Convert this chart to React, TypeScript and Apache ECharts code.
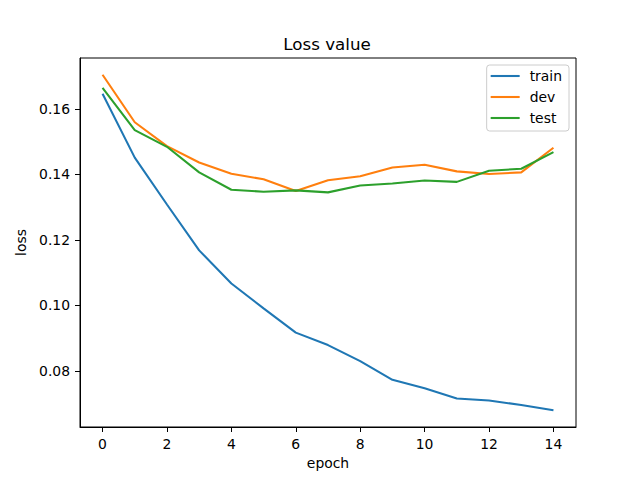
import React, { useEffect, useRef } from "react";
import * as echarts from "echarts";

const epochs = [0, 1, 2, 3, 4, 5, 6, 7, 8, 9, 10, 11, 12, 13, 14];
const trainLoss = [0.1646, 0.1451, 0.1308, 0.1168, 0.1067, 0.0991, 0.0917, 0.0879, 0.083, 0.0773, 0.0747, 0.0716, 0.071, 0.0696, 0.068];
const devLoss = [0.1704, 0.1559, 0.1486, 0.1436, 0.1402, 0.1385, 0.1349, 0.1382, 0.1394, 0.1421, 0.1429, 0.1409, 0.1401, 0.1406, 0.1481];
const testLoss = [0.1664, 0.1535, 0.1484, 0.1406, 0.1353, 0.1347, 0.1351, 0.1345, 0.1366, 0.1372, 0.1381, 0.1377, 0.1411, 0.1417, 0.1468];
const xTicks = [0, 2, 4, 6, 8, 10, 12, 14];
const yTicks = [0.08, 0.1, 0.12, 0.14, 0.16];

const FONT = "DejaVu Sans";

export default function App() {
  const ref = useRef<HTMLDivElement>(null);
  useEffect(() => {
    if (!ref.current) return;
    const chart = echarts.init(ref.current, undefined, { renderer: "svg" });
    const mk = (name: string, vals: number[], color: string) => ({
      name,
      type: "line",
      data: epochs.map((e, i) => [e, vals[i]]),
      symbol: "none",
      lineStyle: { color, width: 2.08 },
      itemStyle: { color },
    });
    chart.setOption({
      animation: false,
      backgroundColor: "#fff",
      textStyle: { fontFamily: FONT },
      grid: { left: 80, right: 64, top: 58, bottom: 53, show: true, borderColor: "#000", borderWidth: 1, backgroundColor: "transparent" },
      graphic: [
        {
          type: "text",
          x: 327,
          y: 43.5,
          style: { text: "Loss value", font: `16.7px "${FONT}"`, fill: "#000", textAlign: "center", textVerticalAlign: "middle" },
        },
      ],
      legend: {
        orient: "vertical",
        right: 71,
        top: 65,
        icon: "rect",
        itemWidth: 29,
        itemHeight: 2.08,
        itemGap: 7,
        padding: [4, 7, 6, 4],
        borderColor: "#cccccc",
        borderWidth: 1,
        borderRadius: 3,
        backgroundColor: "rgba(255,255,255,0.8)",
        textStyle: { fontFamily: FONT, fontSize: 13.9, color: "#000", padding: [0, 0, 0, 5], lineHeight: 14 },
        data: ["train", "dev", "test"],
      },
      xAxis: {
        type: "value",
        min: -0.7,
        max: 14.7,
        name: "epoch",
        nameLocation: "middle",
        nameGap: 27,
        nameTextStyle: { fontFamily: FONT, fontSize: 13.9, color: "#000" },
        axisLine: { show: true, onZero: false, lineStyle: { color: "#000", width: 1 } },
        axisTick: { show: true, inside: false, length: 5, lineStyle: { color: "#000", width: 1 }, customValues: xTicks },
        axisLabel: { show: true, margin: 10, fontFamily: FONT, fontSize: 13.9, color: "#000", customValues: xTicks },
        splitLine: { show: false },
      },
      yAxis: {
        type: "value",
        min: 0.0629,
        max: 0.1755,
        name: "loss",
        nameLocation: "middle",
        nameRotate: 90,
        nameGap: 47,
        nameTextStyle: { fontFamily: FONT, fontSize: 13.9, color: "#000" },
        axisLine: { show: true, onZero: false, lineStyle: { color: "#000", width: 1 } },
        axisTick: { show: true, inside: false, length: 5, lineStyle: { color: "#000", width: 1 }, customValues: yTicks },
        axisLabel: { show: true, margin: 10, fontFamily: FONT, fontSize: 13.9, color: "#000", customValues: yTicks, formatter: (v: number) => v.toFixed(2) },
        splitLine: { show: false },
      },
      series: [mk("train", trainLoss, "#1f77b4"), mk("dev", devLoss, "#ff7f0e"), mk("test", testLoss, "#2ca02c")],
    });
    return () => chart.dispose();
  }, []);
  return <div ref={ref} style={{ position: "fixed", left: 0, top: 0, width: 640, height: 480 }} />;
}
